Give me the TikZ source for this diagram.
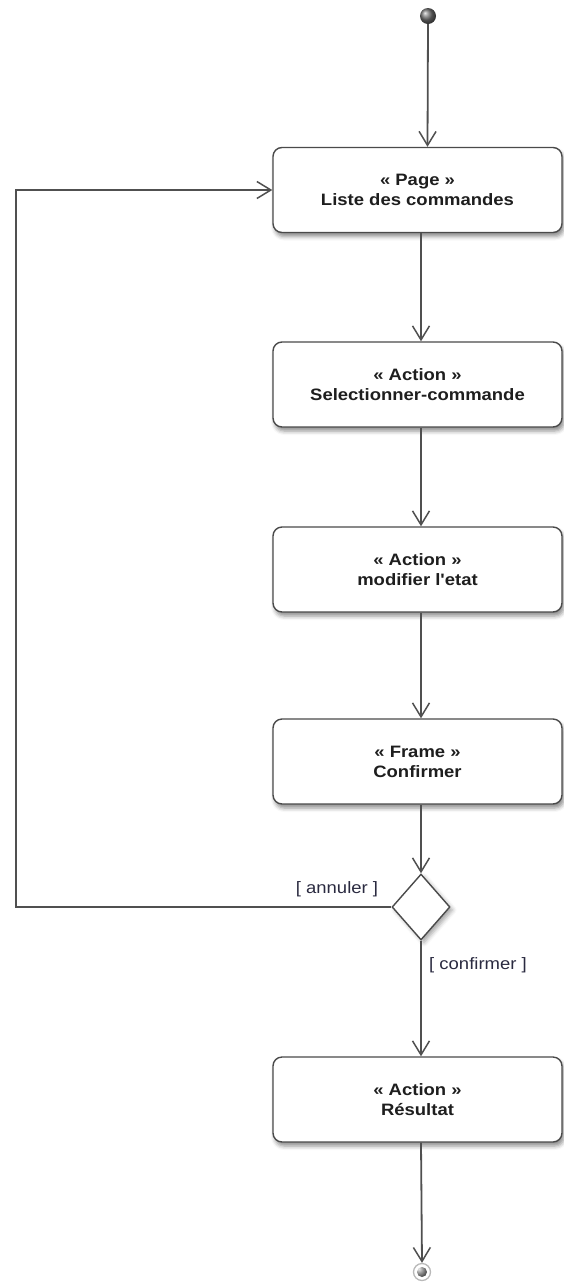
\documentclass[tikz,border=0pt]{standalone}
\usepackage{fontspec}
\setmainfont{Liberation Sans}
\newfontfamily\diagfont[FakeStretch=1.12]{Liberation Sans}
\usetikzlibrary{arrows.meta,shapes.geometric,shadows.blur}
\definecolor{edgegray}{HTML}{505050}
\definecolor{boxline}{HTML}{4A4A4A}
\definecolor{txtcol}{HTML}{1E1E1E}
\definecolor{guardcol}{HTML}{2A2A40}
\begin{document}
\begin{tikzpicture}[x=1pt,y=-1pt,
  actbox/.style={draw=boxline, line width=1.4pt, fill=white, rounded corners=9pt,
    minimum width=289pt, minimum height=85pt, align=center, inner sep=0pt,
    font=\diagfont\fontsize{16.5}{20}\selectfont\bfseries, text=txtcol,
    blur shadow={shadow xshift=2pt, shadow yshift=-4pt, shadow blur radius=4pt, shadow opacity=45}},
  decision/.style={diamond, draw=boxline, line width=1.4pt, fill=white, inner sep=0pt,
    minimum width=58pt, minimum height=66pt,
    blur shadow={shadow xshift=3pt, shadow yshift=-3pt, shadow blur radius=4pt, shadow opacity=35}},
  flow/.style={draw=edgegray, line width=1.8pt,
    -{Straight Barb[length=14pt,width=17pt,line width=1.5pt]}},
  guard/.style={font=\diagfont\fontsize{16.5}{18}\selectfont, text=guardcol, inner sep=1pt},
  startdot/.style={circle, inner sep=0pt, minimum size=16pt, shading=ball, ball color=gray!90!black},
  enddot/.style={circle, draw=gray!55, line width=1.3pt, inner sep=0pt, minimum size=17pt, fill=white,
    path picture={\shade[ball color=gray] (path picture bounding box.center) circle (5pt);}}
]
\useasboundingbox (0,0) rectangle (563,1283);

% initial and final states
\node[startdot] (start) at (428,16) {};
\node[enddot] (fin) at (422,1272) {};

% activity boxes
\node[actbox] (p1) at (417.5,190) {« Page »\\Liste des commandes};
\node[actbox] (p2) at (417.5,384.5) {« Action »\\Selectionner-commande};
\node[actbox] (p3) at (417.5,569.5) {« Action »\\modifier l'etat};
\node[actbox] (p4) at (417.5,761.5) {« Frame »\\Confirmer};
\node[actbox] (p5) at (417.5,1099.5) {« Action »\\Résultat};

% decision
\node[decision] (dec) at (421,907) {};

% corner of the cancel loop
\coordinate (loop) at (16,907);

% flows
\draw[flow] (start.south) -- ([xshift=10pt]p1.north);
\draw[flow] ([xshift=3.5pt]p1.south) -- ([xshift=3.5pt]p2.north);
\draw[flow] ([xshift=3.5pt]p2.south) -- ([xshift=3.5pt]p3.north);
\draw[flow] ([xshift=3.5pt]p3.south) -- ([xshift=3.5pt]p4.north);
\draw[flow] ([xshift=3.5pt]p4.south) -- (dec.north);
\draw[flow] (dec.south) -- ([xshift=3.5pt]p5.north);
\draw[flow] ([xshift=3.5pt]p5.south) -- (fin.north);
\draw[flow] (dec.west) -- (loop) |- (p1.west);

% guards
\node[guard] (gA) at (337,889) {[ annuler ]};
\node[guard] (gB) at (478,965) {[ confirmer ]};
\end{tikzpicture}
\end{document}
